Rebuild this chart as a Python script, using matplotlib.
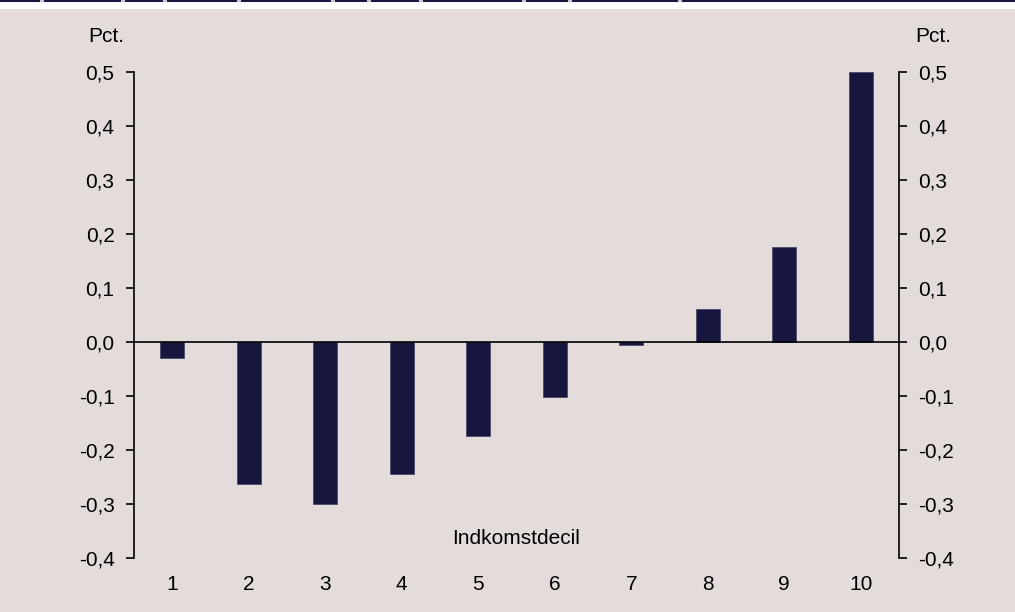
import numpy as np
import matplotlib.pyplot as plt
from matplotlib.lines import Line2D

plt.rcParams['font.family'] = ['Liberation Sans', 'DejaVu Sans']

# Change in disposable income by income decile, pct.
deciles = ['1', '2', '3', '4', '5', '6', '7', '8', '9', '10']
change = [-0.03, -0.263, -0.30, -0.245, -0.175, -0.102, -0.005, 0.061, 0.176, 0.50]
yticks = [-0.4, -0.3, -0.2, -0.1, 0.0, 0.1, 0.2, 0.3, 0.4, 0.5]

bg = '#e3dcdb'
navy = '#16163f'
fs = 15

fig = plt.figure(figsize=(10.15, 6.12), dpi=100)
fig.patch.set_facecolor(bg)

# white header strip with a thin navy rule on top
fig.patches.append(plt.Rectangle((0, 1 - 9 / 612), 1, 9 / 612, transform=fig.transFigure,
                                 facecolor='white', edgecolor='none'))
fig.lines.append(Line2D([0, 1], [1 - 0.8 / 612] * 2, transform=fig.transFigure,
                        color=navy, lw=1.5))
for gx in [42, 123, 165, 239, 333, 369, 421, 524, 570, 680]:
    fig.lines.append(Line2D([(gx - 1) / 1015, (gx + 1) / 1015], [1 - 0.8 / 612] * 2,
                            transform=fig.transFigure, color='#c8c8d4', lw=1.5))

ax = fig.add_axes([134 / 1015, 1 - 558 / 612, (899 - 134) / 1015, (558 - 72) / 612])
ax.set_facecolor(bg)

x = np.arange(1, len(deciles) + 1)
ax.bar(x, change, width=0.31, color=navy, edgecolor='#4a4a6a', linewidth=0.6, zorder=3)
ax.axhline(0, color='black', lw=1.2, zorder=4)

ax.set_xlim(0.5, 10.5)
ax.set_ylim(-0.4, 0.5)
ax.set_yticks(yticks)
ax.set_yticklabels([f'{v:.1f}'.replace('.', ',') for v in yticks])
ax.set_xticks(x)
ax.set_xticklabels(deciles)

ax.tick_params(axis='y', direction='out', length=6, width=1.2, labelsize=fs,
               left=True, right=True, labelleft=True, labelright=True, pad=8)
ax.tick_params(axis='x', length=0, labelsize=fs, pad=12.5)

for side in ['top', 'bottom']:
    ax.spines[side].set_visible(False)
for side in ['left', 'right']:
    ax.spines[side].set_linewidth(1.2)

ax.text(5.49, -0.363, 'Indkomstdecil', ha='center', va='center', fontsize=fs)
fig.text(106 / 1015, 1 - 37 / 612, 'Pct.', ha='center', va='center', fontsize=fs)
fig.text(933 / 1015, 1 - 37 / 612, 'Pct.', ha='center', va='center', fontsize=fs)

fig.savefig('out.png', dpi=100, facecolor=fig.get_facecolor())
